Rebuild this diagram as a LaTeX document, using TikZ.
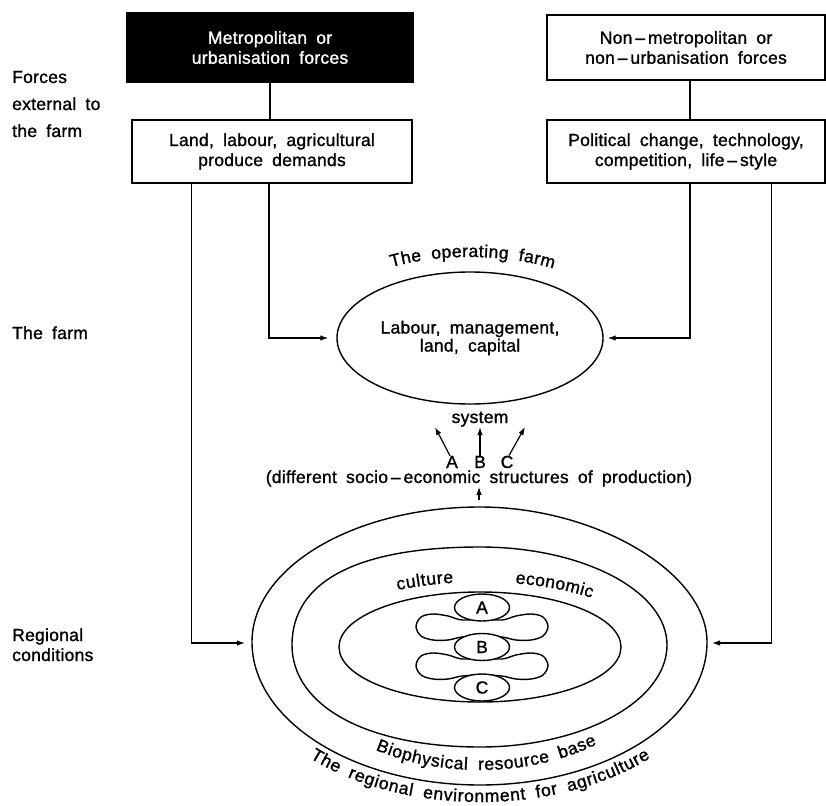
\documentclass[tikz,border=0pt]{standalone}
\usepackage{fontspec}
\setmainfont{Liberation Sans}[FakeBold=1.2,LetterSpace=1.5,WordSpace=1.8]
\usetikzlibrary{shapes.geometric,arrows.meta,decorations.text}
\newcommand\diagfont{\fontsize{17.5}{20}\selectfont}
\begin{document}
\begin{tikzpicture}[x=1pt,y=1pt,
  font=\diagfont,
  ln/.style={line width=1.2pt},
  arr/.style={line width=1.2pt,-{Latex[length=8pt,width=5.5pt]}},
  box/.style={draw,line width=1.2pt,inner sep=0pt,align=center},
  lbl/.style={anchor=base west,inner sep=0pt},
  txt/.style={anchor=base,inner sep=0pt},
  ring/.style={line width=1.4pt},
  letter/.style={draw,ellipse,fill=white,line width=1.4pt,minimum width=55,minimum height=27,inner sep=0pt},
  curvetext/.style={decorate,decoration={text along path,text={|\diagfont|#1},text align=fit to path}}
]
\useasboundingbox (0,0) rectangle (826,-805);

% left labels
\node[lbl] (f1) at (12,-83) {Forces};
\node[lbl] (f2) at (12,-110) {external to};
\node[lbl] (f3) at (12,-137) {the farm};
\node[lbl] (tf) at (12,-339) {The farm};
\node[lbl] (r1) at (12,-641) {Regional};
\node[lbl] (r2) at (12,-661) {conditions};

% boxes
\node[box,fill=black,text=white,minimum width=286,minimum height=69] (metro) at (270,-47.5) {Metropolitan or\\urbanisation forces};
\node[box,minimum width=280,minimum height=63] (land) at (272,-151.5) {Land, labour, agricultural\\produce demands};
\node[box,minimum width=278,minimum height=65] (nonmetro) at (686,-47.5) {Non\,–\,metropolitan or\\non\,–\,urbanisation forces};
\node[box,minimum width=278,minimum height=63] (pol) at (686,-151.5) {Political change, technology,\\competition, life\,–\,style};

\draw[ln] (metro.south) -- (metro.south |- land.north);
\draw[ln] ([xshift=4pt]nonmetro.south) -- ([xshift=4pt]nonmetro.south |- pol.north);

% farm
\node[draw,ellipse,line width=1.4pt,minimum width=266,minimum height=132,inner sep=0pt,align=center,font=\fontsize{17.5}{18}\selectfont] (farm) at (470,-338) {Labour, management,\\land, capital};
\path[curvetext={The operating farm}] (470,-338) ++(119:162 and 81) arc[start angle=119,end angle=59,x radius=162,y radius=81];

\draw[arr] ([xshift=-3pt]land.south) |- ([xshift=-8pt]farm.west);
\draw[arr] ([xshift=4pt]pol.south) |- ([xshift=4pt]farm.east);

% system
\node[txt] (sys) at (480,-423) {system};
\node[txt] (la) at (452,-468) {A};
\node[txt] (lb) at (480,-468) {B};
\node[txt] (lc) at (507,-468) {C};
\node[txt] (diff) at (479,-483) {(different socio\,–\,economic structures of production)};
\coordinate (tA) at (435,-427);
\coordinate (tB) at (480,-427);
\coordinate (tC) at (525,-427);
\draw[arr] ([xshift=-2pt]la.north) -- (tA);
\draw[arr] (lb.north) -- (tB);
\draw[arr] ([xshift=2pt]lc.north) -- (tC);
\coordinate (otop) at (479,-500);
\draw[arr] (otop) -- (otop |- diff.south);

% regional rings
\draw[ring] (252,-642) .. controls (252,-567.5) and (354,-507) .. (480,-507)
  .. controls (595,-507) and (707,-572) .. (707,-642)
  .. controls (707,-721) and (605,-785) .. (480,-785)
  .. controls (354,-785) and (252,-721) .. cycle;
\draw[ring] (292,-645) .. controls (292,-581) and (358,-547) .. (480,-547)
  .. controls (583,-547) and (667,-591) .. (667,-645)
  .. controls (667,-701) and (583,-747) .. (480,-747)
  .. controls (367,-747) and (292,-706) .. cycle;
\draw[ring] (480,-647) ellipse [x radius=141, y radius=55];
\begin{scope}[yshift=-626.5pt]
\draw[ring] plot[smooth cycle,tension=0.55] coordinates {(482,7.5) (462,6.5) (448,10.5) (433,12.5) (421,9.5) (416,0) (421,-9.5) (433,-13.5) (448,-13.5) (462,-10.5) (482,-9.5) (502,-10.5) (516,-13.5) (531,-13.5) (543,-9.5) (548,0) (543,9.5) (531,12.5) (516,10.5) (502,6.5)};
\end{scope}
\begin{scope}[yshift=-665.5pt]
\draw[ring] plot[smooth cycle,tension=0.55] coordinates {(482,7.5) (462,6.5) (448,10.5) (433,12.5) (421,9.5) (416,0) (421,-9.5) (433,-13.5) (448,-13.5) (462,-10.5) (482,-9.5) (502,-10.5) (516,-13.5) (531,-13.5) (543,-9.5) (548,0) (543,9.5) (531,12.5) (516,10.5) (502,6.5)};
\end{scope}
\node[letter] (eA) at (482,-607.5) {A};
\node[letter] (eB) at (482,-647) {B};
\node[letter] (eC) at (482,-687.5) {C};

\path[curvetext={culture}] (480,-647) ++(119:170 and 65) arc[start angle=119,end angle=99,x radius=170,y radius=65];
\path[curvetext={economic}] (480,-647) ++(78:170 and 65) arc[start angle=78,end angle=49,x radius=170,y radius=65];
\path[curvetext={Biophysical resource base}] (480,-645) ++(237:192 and 125) arc[start angle=237,end angle=307.5,x radius=192,y radius=125];
\path[curvetext={The regional environment for agriculture}] (480,-645) ++(226:245 and 157) arc[start angle=226,end angle=314,x radius=245,y radius=157];

\coordinate (oL) at (245,-643);
\coordinate (oR) at (712,-643);
\draw[arr] ([xshift=60pt]land.south west) |- (oL);
\draw[arr] ([xshift=-54pt]pol.south east) |- (oR);
\end{tikzpicture}
\end{document}
